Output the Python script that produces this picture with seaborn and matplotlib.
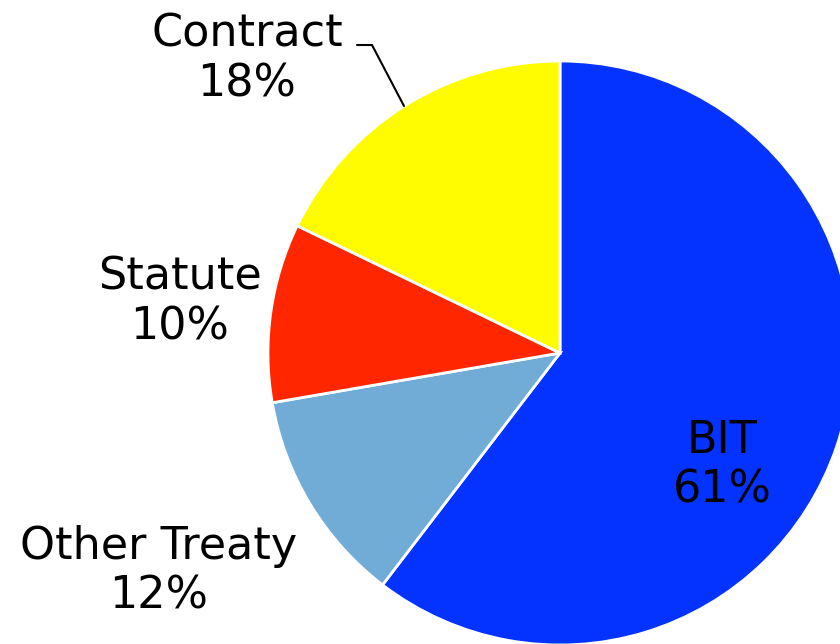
import matplotlib
matplotlib.use("Agg")
import matplotlib.pyplot as plt
import seaborn as sns

sns.set_theme(style="white")
plt.rcParams['font.family'] = ['DejaVu Sans']

categories = ["BIT", "Other Treaty", "Statute", "Contract"]
values = [61, 12, 10, 18]
pct_labels = ["61%", "12%", "10%", "18%"]
colors = ["#0433FF", "#70ACD6", "#FF2600", "#FFFB00"]

W, H = 840, 644
cx, cy, R = 560, 353, 292

fig = plt.figure(figsize=(W / 100, H / 100), dpi=100)
ax = fig.add_axes([0, 0, 1, 1])
ax.pie(values, colors=colors, startangle=90, counterclock=False,
       radius=1.0, wedgeprops=dict(edgecolor="white", linewidth=2))

def px(x, y):
    return ((x - cx) / R, (cy - y) / R)

ax.set_xlim(px(0, 0)[0], px(W, 0)[0])
ax.set_ylim(px(0, H)[1], px(0, 0)[1])
ax.set_aspect("auto")
ax.axis("off")

label_pos = {"BIT": (722, 465), "Other Treaty": (159, 571),
             "Statute": (180, 302), "Contract": (247, 59)}
for c, p in zip(categories, pct_labels):
    x, y = px(*label_pos[c])
    ax.text(x, y, f"{c}\n{p}", ha="center", va="center", fontsize=32,
            linespacing=1.2, color="black")

# leader line for Contract
lx = [px(357, 45)[0], px(372, 45)[0], px(404, 106)[0]]
ly = [px(357, 45)[1], px(372, 45)[1], px(404, 106)[1]]
ax.plot(lx, ly, color="black", linewidth=1.5)

fig.savefig("out.png", dpi=100)
